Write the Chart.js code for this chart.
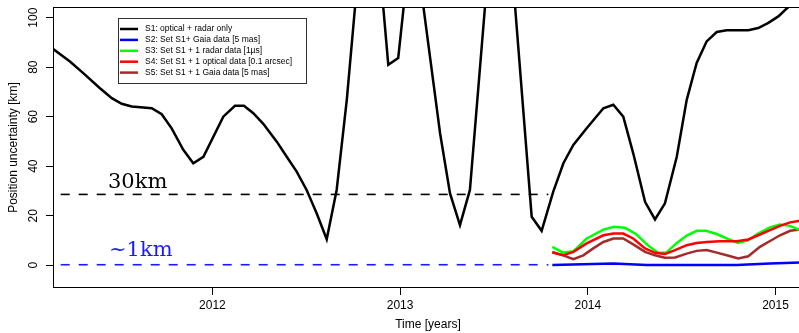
<!DOCTYPE html>
<html>
<head>
<meta charset="utf-8">
<script src="https://cdn.jsdelivr.net/npm/chart.js@4"></script>
<style>
  html, body { margin: 0; padding: 0; background: #fff; overflow: hidden; }
  #wrap { width: 799px; height: 333px; overflow: hidden; }
</style>
</head>
<body>
<div id="wrap"><canvas id="chart" width="803" height="333"></canvas></div>
<script>
// ticks
const xTicks = [2012, 2013, 2014, 2015];
const yTicks = [0, 20, 40, 60, 80, 100];

// S1: optical + radar only
const s1Time = [2011.152, 2011.241, 2011.312, 2011.401, 2011.464, 2011.517, 2011.570, 2011.677,
  2011.730, 2011.783, 2011.845, 2011.898, 2011.952, 2012.058, 2012.120, 2012.168, 2012.218,
  2012.271, 2012.343, 2012.396, 2012.449, 2012.502, 2012.556, 2012.609, 2012.662, 2012.716,
  2012.769, 2012.822, 2012.875, 2012.937, 2012.990, 2013.044, 2013.097, 2013.177, 2013.213,
  2013.266, 2013.319, 2013.372, 2013.479, 2013.532, 2013.586, 2013.701, 2013.754, 2013.816,
  2013.870, 2013.923, 2013.994, 2014.083, 2014.136, 2014.189, 2014.242, 2014.305, 2014.358,
  2014.411, 2014.474, 2014.527, 2014.580, 2014.633, 2014.687, 2014.740, 2014.855, 2014.908,
  2014.962, 2015.015, 2015.068, 2015.131];
const s1Value = [87.3, 82.3, 77.6, 71.5, 67.5, 65.2, 64.1, 63.4,
  61.0, 55.3, 46.6, 41.2, 43.8, 60.0, 64.4, 64.4, 61.4,
  57.1, 49.9, 43.8, 37.8, 30.4, 20.9, 10.5, 30.4, 66.8,
  112, 145, 135, 81.0, 83.7, 122, 120, 74, 53.3,
  29.0, 16.2, 30.4, 129, 150, 130, 19.6, 13.9, 29.7,
  41.2, 48.6, 55.3, 63.4, 64.8, 60.0, 45.2, 25.6, 18.5,
  25.0, 43.8, 66.8, 81.7, 90.4, 94.2, 94.9, 94.9, 95.8,
  97.9, 100.5, 104.3, 109];

// S2: S1 + Gaia data [5 mas]
const s2Time = [2013.811, 2014.136, 2014.314, 2014.793, 2014.971, 2015.131];
const s2Value = [0.1, 0.7, 0.1, 0.1, 0.7, 1.1];

// S3: S1 + 1 radar data [1us]
const s3Time = [2013.811, 2013.869, 2013.923, 2013.994, 2014.083, 2014.140, 2014.198, 2014.257,
  2014.321, 2014.374, 2014.417, 2014.474, 2014.527, 2014.580, 2014.630, 2014.687, 2014.747,
  2014.800, 2014.853, 2014.907, 2014.971, 2015.024, 2015.078, 2015.131];
const s3Value = [7.4, 5.1, 5.6, 10.8, 14.4, 15.5, 15.1, 12.6,
  8.0, 5.0, 5.0, 9.0, 12.0, 13.9, 13.9, 12.6, 10.6,
  9.0, 10.0, 12.8, 15.3, 16.4, 15.9, 14.2];

// S4: S1 + 1 optical data [0.1 arcsec]
const s4Time = [2013.811, 2013.869, 2013.923, 2013.994, 2014.083, 2014.136, 2014.189, 2014.242,
  2014.305, 2014.358, 2014.411, 2014.465, 2014.527, 2014.580, 2014.633, 2014.704, 2014.793,
  2014.855, 2014.917, 2014.971, 2015.024, 2015.078, 2015.131];
const s4Value = [5.1, 4.0, 5.4, 8.8, 12.1, 12.8, 12.8, 10.8,
  6.8, 5.0, 4.5, 6.1, 8.1, 9.0, 9.4, 9.7, 9.7,
  10.4, 12.4, 14.2, 15.9, 17.3, 18.0];

// S5: S1 + 1 Gaia data [5 mas]
const s5Time = [2013.811, 2013.869, 2013.923, 2013.976, 2014.029, 2014.083, 2014.136, 2014.189,
  2014.242, 2014.305, 2014.358, 2014.411, 2014.465, 2014.527, 2014.580, 2014.633, 2014.687,
  2014.740, 2014.802, 2014.855, 2014.917, 2014.971, 2015.024, 2015.078, 2015.131];
const s5Value = [5.4, 4.0, 2.4, 4.0, 6.8, 9.4, 10.8, 10.8,
  8.4, 5.4, 4.0, 3.0, 3.1, 4.7, 5.8, 6.1, 5.1,
  4.0, 2.7, 3.6, 7.4, 9.8, 12.1, 13.9, 14.4];

// reference levels (30km, ~1km)
const refTime = [2011.0, 2013.79];
const ref30 = [28.6, 28.6];
const ref1 = [0.2, 0.2];

const pts = (xs, ys) => xs.map((x, i) => ({ x: x, y: ys[i] }));

const FONT = '"Liberation Sans", Arial, Helvetica, sans-serif';
Chart.defaults.font.family = FONT;
Chart.defaults.font.size = 12;
Chart.defaults.color = '#000';

// box round the plot region + rotated y labels (R style)
const framePlugin = {
  id: 'frame',
  afterDraw(chart) {
    const { ctx, chartArea: a } = chart;
    const y = chart.scales.y;
    ctx.save();
    ctx.strokeStyle = '#000';
    ctx.lineWidth = 1;
    ctx.strokeRect(a.left + 0.5, a.top + 0.5, a.right - a.left, a.bottom - a.top - 1);
    ctx.font = '12px ' + FONT;
    ctx.fillStyle = '#000';
    ctx.textAlign = 'center';
    ctx.textBaseline = 'middle';
    yTicks.forEach(v => {
      ctx.save();
      ctx.translate(34, y.getPixelForValue(v));
      ctx.rotate(-Math.PI / 2);
      ctx.fillText(String(v), 0, 0);
      ctx.restore();
    });
    ctx.restore();
  }
};

// legend box + level labels
const notesPlugin = {
  id: 'notes',
  afterDatasetsDraw(chart) {
    const ctx = chart.ctx;
    ctx.save();
    ctx.font = '21px "DejaVu Serif", serif';
    ctx.textBaseline = 'alphabetic';
    ctx.textAlign = 'left';
    ctx.fillStyle = '#000';
    ctx.fillText('30km', 108, 188);
    ctx.fillStyle = '#1a1aff';
    ctx.fillText('~1km', 109, 256);

    // legend
    const items = chart.data.datasets.filter(d => d.inLegend);
    ctx.fillStyle = '#fff';
    ctx.fillRect(118.5, 18.5, 188, 65);
    ctx.strokeStyle = '#333';
    ctx.lineWidth = 1;
    ctx.strokeRect(118.5, 18.5, 188, 65);
    ctx.font = '8.5px ' + FONT;
    ctx.textBaseline = 'middle';
    ctx.fillStyle = '#000';
    items.forEach((d, i) => {
      const ly = 29 + i * 10.9;
      ctx.strokeStyle = d.borderColor;
      ctx.lineWidth = 2.5;
      ctx.beginPath();
      ctx.moveTo(120, ly);
      ctx.lineTo(138, ly);
      ctx.stroke();
      ctx.fillText(d.label, 145, ly);
    });
    ctx.restore();
  }
};

const line = (label, data, color, width, order) => ({
  label, data, borderColor: color, borderWidth: width, order,
  pointRadius: 0, tension: 0, fill: false, clip: 0, inLegend: true
});

new Chart(document.getElementById('chart'), {
  type: 'line',
  data: {
    datasets: [
      line('S1: optical + radar only', pts(s1Time, s1Value), '#000000', 2.5, 5),
      line('S2: Set S1+ Gaia data [5 mas]', pts(s2Time, s2Value), '#0000ff', 2.5, 4),
      line('S3: Set S1 + 1 radar data [1\u00b5s]', pts(s3Time, s3Value), '#00ff00', 2.5, 2),
      line('S4: Set S1 + 1 optical data [0.1 arcsec]', pts(s4Time, s4Value), '#ff0000', 2.5, 1),
      line('S5: Set S1 + 1 Gaia data [5 mas]', pts(s5Time, s5Value), '#a52a2a', 2.5, 3),
      { label: '30km', data: pts(refTime, ref30), borderColor: '#000', borderWidth: 1.6,
        borderDash: [9, 9], pointRadius: 0, clip: 0, order: 6 },
      { label: '~1km', data: pts(refTime, ref1), borderColor: '#1a1aff', borderWidth: 1.6,
        borderDash: [9, 9], pointRadius: 0, clip: 0, order: 6 }
    ]
  },
  options: {
    responsive: false,
    animation: false,
    events: [],
    layout: { padding: { top: 7, right: 0, left: 0, bottom: 0 } },
    plugins: { legend: { display: false }, tooltip: { enabled: false } },
    scales: {
      x: {
        type: 'linear',
        min: 2011.1508,
        max: 2015.1465,
        afterBuildTicks: s => { s.ticks = xTicks.map(v => ({ value: v })); },
        afterFit: s => { s.height = 45; },
        grid: { drawOnChartArea: false, drawTicks: true, tickLength: 7, color: '#000' },
        border: { display: false },
        ticks: { callback: v => String(v), maxRotation: 0, padding: 3, font: { size: 12 } },
        title: { display: true, text: 'Time [years]', font: { size: 12 }, padding: { top: 0, bottom: 1 } }
      },
      y: {
        min: -9.2,
        max: 104.3,
        afterBuildTicks: s => { s.ticks = yTicks.map(v => ({ value: v })); },
        afterFit: s => { s.width = 53; },
        grid: { drawOnChartArea: false, drawTicks: true, tickLength: 7, color: '#000' },
        border: { display: false },
        ticks: { display: false },
        title: { display: true, text: 'Position uncertainty [km]', font: { size: 12 }, padding: { top: 6, bottom: 0 } }
      }
    }
  },
  plugins: [framePlugin, notesPlugin]
});
</script>
</body>
</html>
